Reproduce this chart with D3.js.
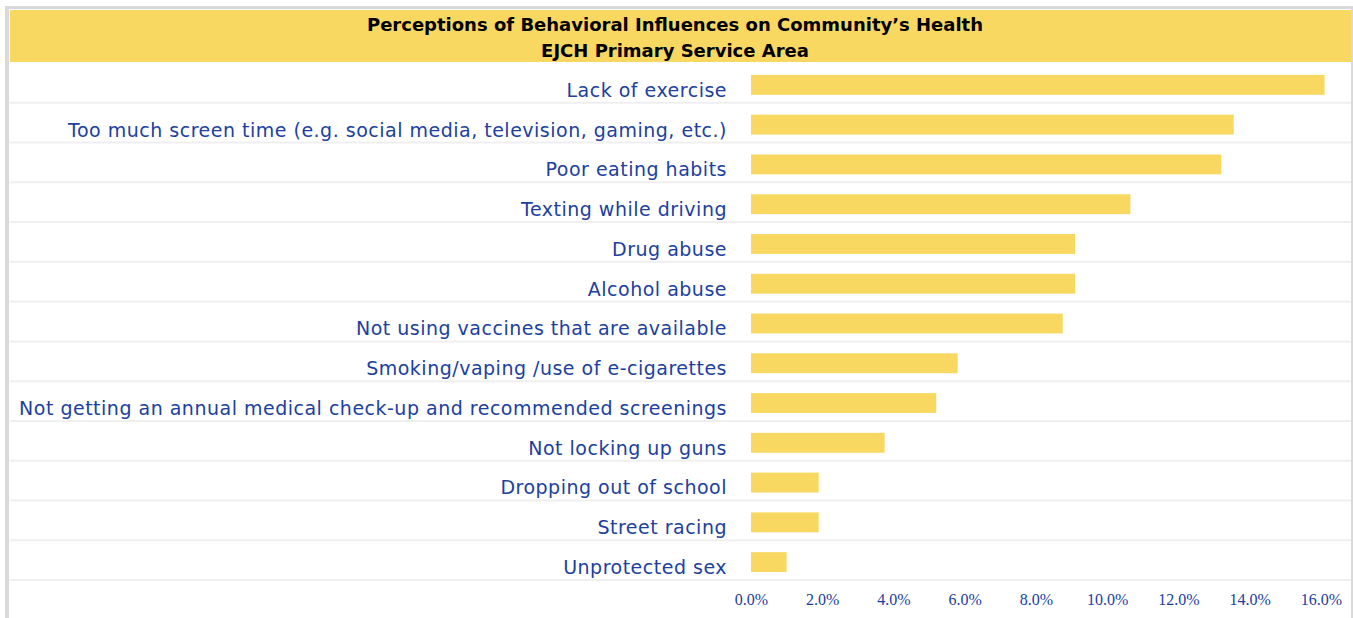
<!DOCTYPE html>
<html>
<head>
<meta charset="utf-8">
<script src="https://cdn.jsdelivr.net/npm/d3@7"></script>
<style>
    body { margin: 0; background: #ffffff; }
    svg { display: block; }
</style>
</head>
<body>
<svg id="bar-chart"></svg>
<script>
// Chart data
const categories = [
    "Lack of exercise",
    "Too much screen time (e.g. social media, television, gaming, etc.)",
    "Poor eating habits",
    "Texting while driving",
    "Drug abuse",
    "Alcohol abuse",
    "Not using vaccines that are available",
    "Smoking/vaping /use of e-cigarettes",
    "Not getting an annual medical check-up and recommended screenings",
    "Not locking up guns",
    "Dropping out of school",
    "Street racing",
    "Unprotected sex"
];
const values = [16.1, 13.55, 13.2, 10.65, 9.1, 9.1, 8.75, 5.8, 5.2, 3.75, 1.9, 1.9, 1.0];
const tick_values = [0, 2, 4, 6, 8, 10, 12, 14, 16];
const title_lines = [
    "Perceptions of Behavioral Influences on Community\u2019s Health",
    "EJCH Primary Service Area"
];

// Dimensions
const width = 1353, height = 618;
const plot = { left: 751, right: 1321, top: 63, bottom: 580 };

const svg = d3.select("#bar-chart")
    .attr("width", width)
    .attr("height", height);

// Outer frame (light gray border on top, left and right)
svg.append("rect")
    .attr("x", 5).attr("y", 6)
    .attr("width", width - 5).attr("height", height - 6)
    .attr("fill", "#d9d9d9");
svg.append("rect")
    .attr("x", 9).attr("y", 9)
    .attr("width", width - 11).attr("height", height - 9)
    .attr("fill", "#ffffff");

// Title band
svg.append("rect")
    .attr("x", 10).attr("y", 10)
    .attr("width", width - 12).attr("height", 52)
    .attr("fill", "#f8d860");

svg.selectAll(".title")
    .data(title_lines)
    .enter()
    .append("text")
    .attr("class", "title")
    .attr("x", 675)
    .attr("y", (d, i) => 31 + i * 26)
    .attr("text-anchor", "middle")
    .attr("font-family", "'DejaVu Sans', sans-serif")
    .attr("font-weight", "bold")
    .attr("font-size", 18)
    .attr("fill", "#000000")
    .text(d => d);

// Scales
const x_scale = d3.scaleLinear()
    .domain([0, 16])
    .range([plot.left, plot.right]);
const y_scale = d3.scaleBand()
    .domain(categories)
    .range([plot.top, plot.bottom]);

// Row separator lines
svg.selectAll(".row-line")
    .data(categories)
    .enter()
    .append("line")
    .attr("class", "row-line")
    .attr("x1", 10).attr("x2", width - 2)
    .attr("y1", d => y_scale(d) + y_scale.bandwidth())
    .attr("y2", d => y_scale(d) + y_scale.bandwidth())
    .attr("stroke", "#efefef")
    .attr("stroke-width", 2);

// Bars
svg.selectAll(".bar")
    .data(values)
    .enter()
    .append("rect")
    .attr("class", "bar")
    .attr("x", x_scale(0))
    .attr("y", (d, i) => y_scale(categories[i]) + y_scale.bandwidth() * 0.3)
    .attr("width", d => x_scale(d) - x_scale(0))
    .attr("height", y_scale.bandwidth() * 0.5)
    .attr("fill", "#f8d860");

// Category labels
svg.selectAll(".cat-label")
    .data(categories)
    .enter()
    .append("text")
    .attr("class", "cat-label")
    .attr("x", 727)
    .attr("y", d => y_scale(d) + y_scale.bandwidth() - 6)
    .attr("text-anchor", "end")
    .attr("font-family", "'DejaVu Sans', sans-serif")
    .attr("font-size", 19)
    .attr("letter-spacing", 0.5)
    .attr("fill", "#2040a0")
    .text(d => d);

// X-axis tick labels (no axis line)
const x_axis = d3.axisBottom(x_scale)
    .tickValues(tick_values)
    .tickFormat(d => d.toFixed(1) + "%")
    .tickSize(0)
    .tickPadding(0);

const axis_g = svg.append("g")
    .attr("transform", `translate(0,${plot.bottom + 14})`)
    .call(x_axis);
axis_g.select(".domain").remove();
axis_g.selectAll("text")
    .attr("font-family", "'Liberation Serif', serif")
    .attr("font-size", 16)
    .attr("fill", "#2040a0");
</script>
</body>
</html>
